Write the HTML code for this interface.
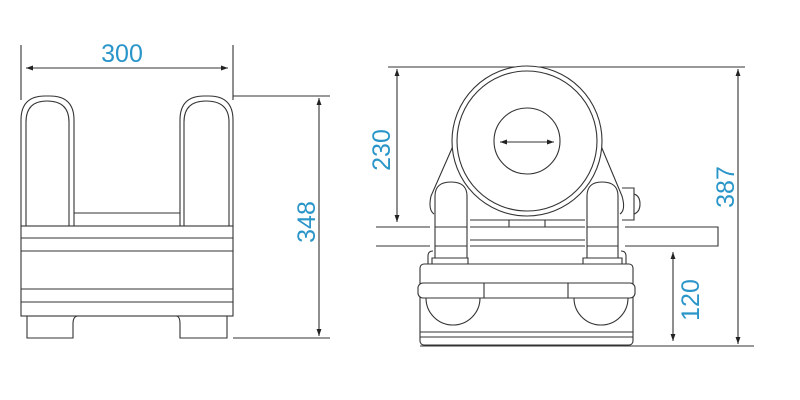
<!DOCTYPE html>
<html><head><style>html,body{margin:0;padding:0;background:#fff}svg{display:block}text{font-family:"Liberation Sans",sans-serif;fill:#2a95c8;font-size:25px}</style></head>
<body>
<svg width="800" height="400" viewBox="0 0 800 400" xmlns="http://www.w3.org/2000/svg">
<defs>
<marker id="a" viewBox="0 0 10 10" refX="10" refY="5" markerWidth="9" markerHeight="7" orient="auto-start-reverse" markerUnits="userSpaceOnUse"><path d="M0,1.5 L10,5 L0,8.5 z" fill="#222"/></marker>
</defs>
<g fill="none" stroke="#333" stroke-width="1.1">
<!-- LEFT VIEW -->
<line x1="21" y1="45" x2="21" y2="100"/>
<line x1="233" y1="45" x2="233" y2="100"/>
<line x1="26" y1="68" x2="228" y2="68" marker-start="url(#a)" marker-end="url(#a)"/>
<path d="M21,226 V120 Q21,96 45,96 H50 Q74,96 74,120 V213 H180 V120 Q180,96 204,96 H209 Q233,96 233,120 V226"/>
<path d="M26,226 V122 Q26,101 47,101 Q69,101 69,122 V226"/>
<path d="M184,226 V122 Q184,101 206,101 Q229,101 229,122 V226"/>
<line x1="74" y1="213" x2="74" y2="226"/><line x1="180" y1="213" x2="180" y2="226"/>
<rect x="21" y="226" width="212" height="90"/>
<line x1="21" y1="238" x2="233" y2="238"/><line x1="21" y1="251" x2="233" y2="251"/>
<line x1="21" y1="289" x2="233" y2="289"/><line x1="21" y1="302" x2="233" y2="302"/>
<path d="M27,316 V338 H73 V324 Q73,316 78,316"/>
<path d="M176,316 Q180,316 180,324 V338 H227 V316"/>
<line x1="233" y1="96" x2="330" y2="96"/><line x1="233" y1="338" x2="330" y2="338"/>
<line x1="319" y1="98" x2="319" y2="336" marker-start="url(#a)" marker-end="url(#a)"/>
<!-- RIGHT VIEW -->
<line x1="388" y1="67" x2="745" y2="67"/>
<line x1="420" y1="346" x2="754" y2="346"/>
<line x1="738" y1="69" x2="738" y2="344" marker-start="url(#a)" marker-end="url(#a)"/>
<line x1="397" y1="69" x2="397" y2="222" marker-start="url(#a)" marker-end="url(#a)"/>
<line x1="673" y1="252" x2="673" y2="341" marker-start="url(#a)" marker-end="url(#a)"/>
<!-- bar -->
<path d="M376,227 H430 M376,246 H430 M625,227 H718 V246 H625"/>
<path d="M470,220 H585 M470,227 H585 M470,240 H585 M470,246 H585"/>
<line x1="509" y1="220" x2="509" y2="227"/><line x1="545" y1="220" x2="545" y2="227"/>
<!-- side plates -->
<path d="M453,146 L431,196 Q428,210 434,214"/>
<path d="M601,146 L622,196 Q626,210 620,214"/>
<!-- circles -->
<circle cx="527" cy="141" r="75" fill="#fff"/>
<circle cx="527" cy="141" r="70"/>
<circle cx="527" cy="141" r="33"/>
<line x1="500" y1="142" x2="554" y2="142" marker-start="url(#a)" marker-end="url(#a)"/>
<!-- posts -->
<path d="M435,258 V196 Q435,182 451,182 Q467,182 467,196 V258" fill="#fff"/>
<line x1="435" y1="227" x2="467" y2="227"/><line x1="435" y1="246" x2="467" y2="246"/>
<path d="M587,258 V196 Q587,182 602,182 Q618,182 618,196 V258" fill="#fff"/>
<line x1="587" y1="227" x2="618" y2="227"/><line x1="587" y1="246" x2="618" y2="246"/>
<!-- bolt -->
<path d="M622,188 H634 V220 H622"/><path d="M634,194 Q640,196 640,204 Q640,212 634,214"/>
<!-- post brackets -->
<path d="M428,264 V256 Q428,251 433,251 M432,264 V258 H468 V264"/>
<path d="M626,264 V256 Q626,251 621,251 M622,264 V258 H583 V264"/>
<!-- base -->
<rect x="420" y="264" width="213" height="81" rx="4"/>
<rect x="418" y="283" width="217" height="15" rx="5" fill="#fff"/>
<line x1="484" y1="283" x2="484" y2="298"/><line x1="568" y1="283" x2="568" y2="298"/>
<path d="M426,298 A27,27 0 0 0 480,298"/>
<path d="M574,298 A27,27 0 0 0 628,298"/>
<line x1="420" y1="332" x2="633" y2="332"/><line x1="420" y1="337" x2="633" y2="337"/>
</g>
<text x="122" y="62" text-anchor="middle">300</text>
<text transform="translate(315,222) rotate(-90)" text-anchor="middle">348</text>
<text transform="translate(390,150) rotate(-90)" text-anchor="middle">230</text>
<text transform="translate(734,187) rotate(-90)" text-anchor="middle">387</text>
<text transform="translate(699,300) rotate(-90)" text-anchor="middle">120</text>
</svg>
</body></html>
